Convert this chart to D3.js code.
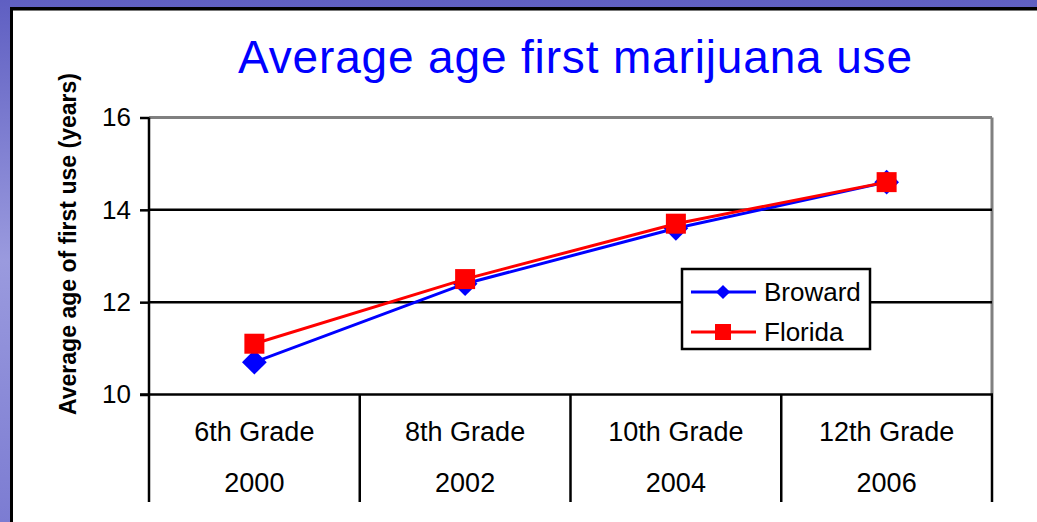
<!DOCTYPE html>
<html>
<head>
<meta charset="utf-8">
<script src="https://cdn.jsdelivr.net/npm/d3@7"></script>
<style>
  html, body { margin: 0; padding: 0; overflow: hidden; }
  svg { display: block; font-family: Arial, "Liberation Sans", sans-serif; }
</style>
</head>
<body>
<svg id="chart" width="1037" height="522"></svg>
<script>
// data
var grades = ["6th Grade", "8th Grade", "10th Grade", "12th Grade"];
var years = ["2000", "2002", "2004", "2006"];
var broward = [10.7, 12.4, 13.6, 14.6];
var florida = [11.1, 12.5, 13.7, 14.6];
var yTicks = [10, 12, 14, 16];

var svg = d3.select("#chart"),
    width = 1037,
    height = 522;

var plotLeft = 149, plotRight = 992, plotTop = 117.5, plotBottom = 394.5;

// slide background
var defs = svg.append("defs");
var grad = defs.append("linearGradient").attr("id", "bg")
    .attr("x1", 0).attr("y1", 0).attr("x2", 0).attr("y2", 1);
grad.append("stop").attr("offset", "0%").attr("stop-color", "#5f5fc2");
grad.append("stop").attr("offset", "50%").attr("stop-color", "#9a9ade");
grad.append("stop").attr("offset", "100%").attr("stop-color", "#7c7cd2");
svg.append("rect").attr("width", width).attr("height", height).attr("fill", "url(#bg)");

// white panel
svg.append("rect")
    .attr("x", 11.5).attr("y", 8.5)
    .attr("width", width + 20).attr("height", height + 20)
    .attr("fill", "#fff").attr("stroke", "#000").attr("stroke-width", 3);
svg.append("line")
    .attr("x1", 13).attr("x2", width).attr("y1", 10.5).attr("y2", 10.5)
    .attr("stroke", "#777").attr("stroke-width", 1);

// title
svg.append("text")
    .attr("x", 575).attr("y", 73)
    .attr("text-anchor", "middle")
    .attr("fill", "#0000ff")
    .style("font-size", "46px")
    .attr("textLength", 674)
    .text("Average age first marijuana use");

var x = d3.scaleBand().domain(grades).range([plotLeft, plotRight]);
var y = d3.scaleLinear().domain([10, 16]).range([plotBottom, plotTop]);

// plot area border (grey top / right)
svg.append("line")
    .attr("x1", plotLeft).attr("x2", plotRight).attr("y1", y(16)).attr("y2", y(16))
    .attr("stroke", "#808080").attr("stroke-width", 3);
svg.append("line")
    .attr("x1", plotRight).attr("x2", plotRight).attr("y1", y(16)).attr("y2", y(10))
    .attr("stroke", "#808080").attr("stroke-width", 3);

// gridlines
svg.append("g").selectAll("line")
    .data(yTicks.filter(function(d) { return d > 10 && d < 16; }))
    .join("line")
    .attr("x1", plotLeft).attr("x2", plotRight)
    .attr("y1", function(d) { return y(d); }).attr("y2", function(d) { return y(d); })
    .attr("stroke", "#000").attr("stroke-width", 2.5);

// y axis
var yAxis = svg.append("g")
    .attr("transform", "translate(" + plotLeft + ",0)")
    .call(d3.axisLeft(y).tickValues(yTicks).tickSize(9).tickPadding(9).tickFormat(d3.format("d")));
yAxis.select(".domain").remove();
yAxis.selectAll(".tick line").attr("stroke", "#000").attr("stroke-width", 2.5);
yAxis.selectAll(".tick text")
    .attr("fill", "#000")
    .style("font-size", "26px")
    .style("font-family", "Arial, 'Liberation Sans', sans-serif");
svg.append("line")
    .attr("x1", plotLeft).attr("x2", plotLeft).attr("y1", y(16)).attr("y2", plotBottom)
    .attr("stroke", "#000").attr("stroke-width", 2.5);

// y axis title
svg.append("text")
    .attr("transform", "translate(76,244) rotate(-90)")
    .attr("text-anchor", "middle")
    .attr("font-weight", "bold")
    .style("font-size", "23px")
    .attr("textLength", 342)
    .text("Average age of first use (years)");

// category axis with separators
svg.append("line")
    .attr("x1", plotLeft - 9).attr("x2", plotRight + 1).attr("y1", plotBottom).attr("y2", plotBottom)
    .attr("stroke", "#000").attr("stroke-width", 2.5);
var bounds = grades.map(function(g) { return x(g); }).concat([plotRight]);
svg.append("g").selectAll("line")
    .data(bounds)
    .join("line")
    .attr("x1", function(d) { return d; }).attr("x2", function(d) { return d; })
    .attr("y1", plotBottom).attr("y2", 502)
    .attr("stroke", "#000").attr("stroke-width", 2.5);

svg.append("g").selectAll("text")
    .data(grades)
    .join("text")
    .attr("x", function(d) { return x(d) + x.bandwidth() / 2; })
    .attr("y", 441)
    .attr("text-anchor", "middle")
    .style("font-size", "27px")
    .text(function(d) { return d; });
svg.append("g").selectAll("text")
    .data(years)
    .join("text")
    .attr("x", function(d, i) { return x(grades[i]) + x.bandwidth() / 2; })
    .attr("y", 492)
    .attr("text-anchor", "middle")
    .style("font-size", "27px")
    .text(function(d) { return d; });

// series
var line = d3.line()
    .x(function(d, i) { return x(grades[i]) + x.bandwidth() / 2; })
    .y(function(d) { return y(d); });

var diamond = d3.symbol().type(d3.symbolDiamond2).size(2 * 14 * 14);
var square = d3.symbol().type(d3.symbolSquare).size(20 * 20);

svg.append("path").datum(broward)
    .attr("d", line).attr("fill", "none").attr("stroke", "#0000ff").attr("stroke-width", 3);
svg.append("g").selectAll("path")
    .data(broward)
    .join("path")
    .attr("transform", function(d, i) { return "translate(" + (x(grades[i]) + x.bandwidth() / 2) + "," + y(d) + ")"; })
    .attr("d", diamond)
    .attr("fill", "#0000ff");

svg.append("path").datum(florida)
    .attr("d", line).attr("fill", "none").attr("stroke", "#ff0000").attr("stroke-width", 3);
svg.append("g").selectAll("path")
    .data(florida)
    .join("path")
    .attr("transform", function(d, i) { return "translate(" + (x(grades[i]) + x.bandwidth() / 2) + "," + y(d) + ")"; })
    .attr("d", square)
    .attr("fill", "#ff0000");

// legend
var legend = svg.append("g");
legend.append("rect")
    .attr("x", 682).attr("y", 269).attr("width", 188).attr("height", 80)
    .attr("fill", "#fff").attr("stroke", "#000").attr("stroke-width", 2.5);

var legendItems = [
  {name: "Broward", color: "#0000ff", sym: d3.symbol().type(d3.symbolDiamond2).size(2 * 8 * 8)},
  {name: "Florida", color: "#ff0000", sym: d3.symbol().type(d3.symbolSquare).size(17 * 15)}
];
legendItems.forEach(function(d, i) {
  var ly = 292 + i * 40;
  legend.append("line")
      .attr("x1", 691).attr("x2", 756).attr("y1", ly).attr("y2", ly)
      .attr("stroke", d.color).attr("stroke-width", 3);
  legend.append("path")
      .attr("transform", "translate(723," + ly + ")")
      .attr("d", d.sym).attr("fill", d.color);
  legend.append("text")
      .attr("x", 764).attr("y", ly + 9)
      .style("font-size", "26px")
      .text(d.name);
});
</script>
</body>
</html>
